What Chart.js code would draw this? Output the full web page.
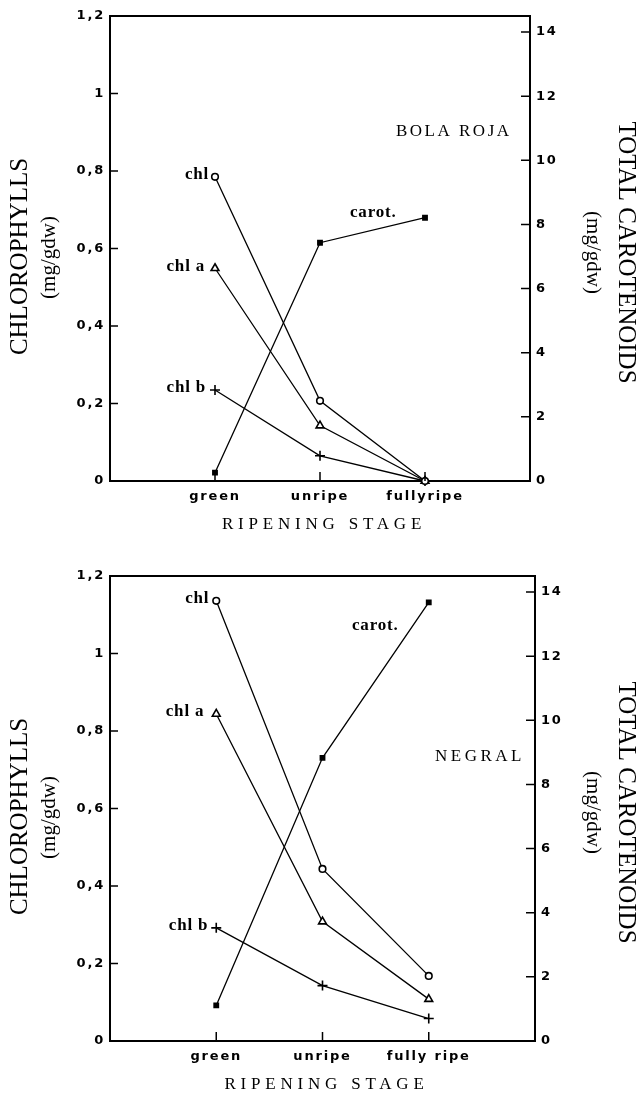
<!DOCTYPE html>
<html>
<head>
<meta charset="utf-8">
<script src="https://cdn.jsdelivr.net/npm/chart.js@4.4.1/dist/chart.umd.min.js"></script>
<style>
  html, body { margin: 0; padding: 0; background: #fff; }
  canvas { display: block; }
</style>
</head>
<body>
<canvas id="chartBolaRoja" width="638" height="560"></canvas>
<canvas id="chartNegral" width="638" height="533"></canvas>
<script>
var stagesBola = ['green', 'unripe', 'fullyripe'];
var stagesNegral = ['green', 'unripe', 'fully ripe'];
var chlTicks = [0, 0.2, 0.4, 0.6, 0.8, 1, 1.2];
var carotTicks = [0, 2, 4, 6, 8, 10, 12, 14];

// BOLA ROJA, mg/gdw
var bolaChl = [0.785, 0.207, 0];
var bolaChlA = [0.549, 0.143, 0];
var bolaChlB = [0.235, 0.065, 0];
var bolaCarot = [0.26, 7.43, 8.21];

// NEGRAL, mg/gdw
var negralChl = [1.136, 0.444, 0.168];
var negralChlA = [0.844, 0.308, 0.108];
var negralChlB = [0.292, 0.143, 0.058];
var negralCarot = [1.11, 8.83, 13.68];

function series(vals) {
  return vals.map(function (v, i) { return { x: i, y: v }; });
}

function makeDatasets(chl, chlA, chlB, carot) {
  var common = {
    borderColor: '#000', borderWidth: 1.3, pointBorderColor: '#000',
    pointBorderWidth: 1.6, tension: 0, clip: false
  };
  return [
    Object.assign({ label: 'chl', data: series(chl), yAxisID: 'y', pointStyle: 'circle', pointRadius: 3.3, pointBackgroundColor: '#fff' }, common),
    Object.assign({ label: 'chl a', data: series(chlA), yAxisID: 'y', pointStyle: 'triangle', pointRadius: 4.5, pointBackgroundColor: '#fff' }, common),
    Object.assign({ label: 'chl b', data: series(chlB), yAxisID: 'y', pointStyle: 'cross', pointRadius: 5, pointBackgroundColor: '#000' }, common),
    Object.assign({ label: 'carot.', data: series(carot), yAxisID: 'y1', pointStyle: 'rect', pointRadius: 3, pointBackgroundColor: '#000' }, common)
  ];
}

// inward tick marks, top border and the text that is written on the figure
var framePlugin = {
  id: 'frame',
  beforeDraw: function (chart) {
    chart.ctx.letterSpacing = '1.8px';
  },
  afterDraw: function (chart, args, opts) {
    var ctx = chart.ctx, a = chart.chartArea, s = chart.scales;
    ctx.save();
    ctx.letterSpacing = '0px';
    ctx.strokeStyle = '#000';
    ctx.lineWidth = 2;
    ctx.beginPath();
    ctx.moveTo(a.left - 1, a.top);
    ctx.lineTo(a.right + 1, a.top);
    ctx.stroke();

    ctx.lineWidth = 1.5;
    ctx.beginPath();
    s.y.ticks.forEach(function (t) {
      var py = s.y.getPixelForValue(t.value);
      ctx.moveTo(a.left, py); ctx.lineTo(a.left + 8, py);
    });
    s.y1.ticks.forEach(function (t) {
      var py = s.y1.getPixelForValue(t.value);
      ctx.moveTo(a.right, py); ctx.lineTo(a.right - 9, py);
    });
    s.x.ticks.forEach(function (t) {
      var px = s.x.getPixelForValue(t.value);
      ctx.moveTo(px, a.bottom); ctx.lineTo(px, a.bottom - 9);
    });
    ctx.stroke();

    ctx.fillStyle = '#000';
    ctx.textBaseline = 'middle';

    // series names next to the first marker
    ctx.font = 'bold 17px "Liberation Serif"';
    ctx.letterSpacing = '0.8px';
    ctx.textAlign = 'right';
    opts.names.forEach(function (n) {
      var ds = chart.data.datasets[n.ds];
      var p = ds.data[0];
      var px = s.x.getPixelForValue(p.x) - n.gap;
      var py = s[ds.yAxisID].getPixelForValue(p.y) - 2;
      ctx.fillText(n.text, px, py);
    });
    ctx.textAlign = 'left';
    ctx.fillText('carot.', opts.carot[0], opts.carot[1]);

    ctx.font = '17px "Liberation Serif"';
    ctx.letterSpacing = opts.varietySpacing;
    ctx.fillText(opts.variety, opts.varietyPos[0], opts.varietyPos[1]);

    // axis titles
    ctx.textAlign = 'center';
    ctx.font = '17px "Liberation Serif"';
    ctx.letterSpacing = '4.8px';
    ctx.fillText('RIPENING STAGE', (a.left + a.right) / 2 + 4, opts.xTitleY);

    ctx.letterSpacing = '0px';
    var cy = (a.top + a.bottom) / 2;
    ctx.save();
    ctx.translate(20, cy + 8);
    ctx.rotate(-Math.PI / 2);
    ctx.font = '25px "Liberation Serif"';
    ctx.fillText('CHLOROPHYLLS', 0, 0);
    ctx.restore();
    ctx.save();
    ctx.translate(49, cy + 9);
    ctx.rotate(-Math.PI / 2);
    ctx.font = '21px "Liberation Serif"';
    ctx.fillText('(mg/gdw)', 0, 0);
    ctx.restore();
    ctx.save();
    ctx.translate(626, cy + 4);
    ctx.rotate(Math.PI / 2);
    ctx.font = '25px "Liberation Serif"';
    ctx.fillText('TOTAL CAROTENOIDS', 0, 0);
    ctx.restore();
    ctx.save();
    ctx.translate(593, cy + 4);
    ctx.rotate(Math.PI / 2);
    ctx.font = '21px "Liberation Serif"';
    ctx.fillText('(mg/gdw)', 0, 0);
    ctx.restore();

    ctx.restore();
  }
};

function buildChart(id, labels, datasets, rightEdge, plotBottom, text) {
  var canvas = document.getElementById(id);
  var H = canvas.height;
  var tickFont = { family: 'DejaVu Sans', size: 13, weight: 'bold' };
  return new Chart(canvas.getContext('2d'), {
    type: 'line',
    data: { datasets: datasets },
    plugins: [framePlugin],
    options: {
      responsive: false,
      animation: false,
      layout: { padding: { top: 16, left: 0, right: 0, bottom: 0 } },
      plugins: { legend: { display: false }, tooltip: { enabled: false }, frame: text },
      scales: {
        x: {
          type: 'linear', min: -1, max: 3,
          grid: { display: false, drawTicks: false },
          border: { display: true, color: '#000', width: 2 },
          afterBuildTicks: function (sc) { sc.ticks = labels.map(function (l, i) { return { value: i }; }); },
          ticks: {
            color: '#000', font: tickFont, padding: 8, maxRotation: 0, autoSkip: false,
            callback: function (v) { return labels[v]; }
          },
          afterFit: function (sc) { sc.height = H - plotBottom; }
        },
        y: {
          position: 'left', min: 0, max: 1.2,
          grid: { display: false, drawTicks: false },
          border: { display: true, color: '#000', width: 2 },
          afterBuildTicks: function (sc) { sc.ticks = chlTicks.map(function (v) { return { value: v }; }); },
          ticks: {
            color: '#000', font: tickFont, padding: 5,
            callback: function (v) { return String(v).replace('.', ','); }
          },
          afterFit: function (sc) { sc.width = 110; }
        },
        y1: {
          position: 'right', min: 0, max: 14.5,
          grid: { display: false, drawTicks: false },
          border: { display: true, color: '#000', width: 2 },
          afterBuildTicks: function (sc) { sc.ticks = carotTicks.map(function (v) { return { value: v }; }); },
          ticks: { color: '#000', font: tickFont, padding: 6 },
          afterFit: function (sc) { sc.width = 638 - rightEdge; }
        }
      }
    }
  });
}

var bolaRoja = buildChart('chartBolaRoja', stagesBola,
  makeDatasets(bolaChl, bolaChlA, bolaChlB, bolaCarot), 530, 481, {
    names: [{ ds: 0, text: 'chl', gap: 6 }, { ds: 1, text: 'chl a', gap: 10 }, { ds: 2, text: 'chl b', gap: 9 }],
    carot: [350, 213],
    variety: 'BOLA ROJA', varietyPos: [396, 132], varietySpacing: '2.5px',
    xTitleY: 525
  });

var negral = buildChart('chartNegral', stagesNegral,
  makeDatasets(negralChl, negralChlA, negralChlB, negralCarot), 535, 481, {
    names: [{ ds: 0, text: 'chl', gap: 7 }, { ds: 1, text: 'chl a', gap: 12 }, { ds: 2, text: 'chl b', gap: 8 }],
    carot: [352, 66],
    variety: 'NEGRAL', varietyPos: [435, 197], varietySpacing: '3.5px',
    xTitleY: 525
  });
</script>
</body>
</html>
